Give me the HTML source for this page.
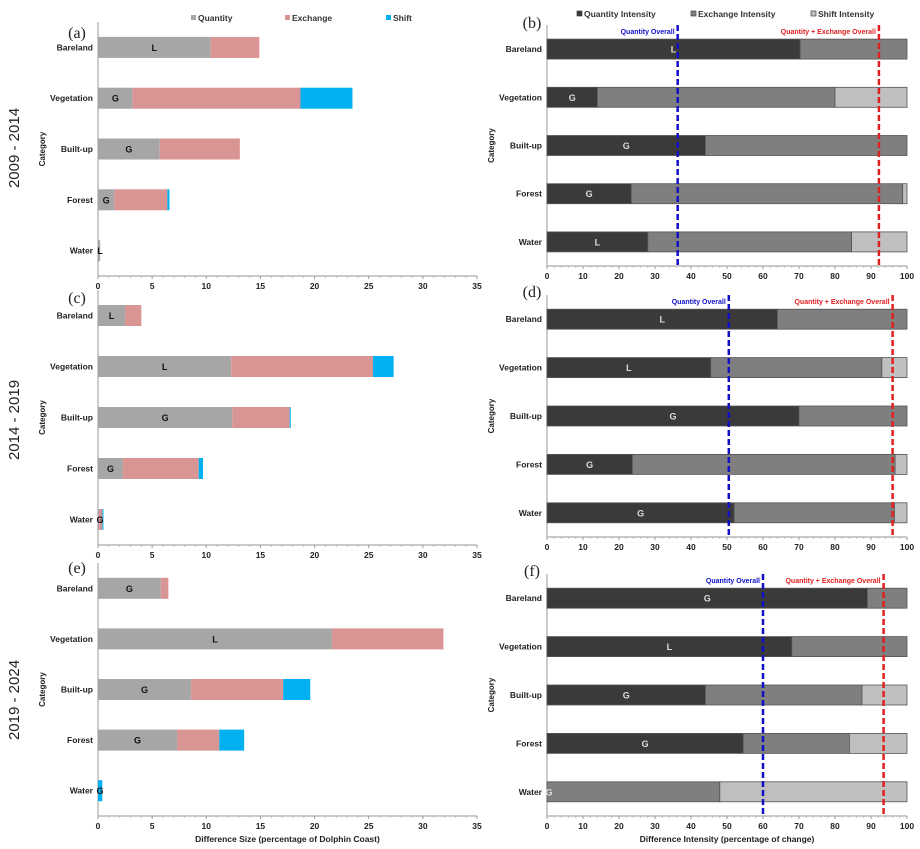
<!DOCTYPE html>
<html><head><meta charset="utf-8"><style>
body{margin:0;background:#fff;}
svg{display:block;font-family:"Liberation Sans",sans-serif;}
</style></head><body>
<svg id="fig" width="920" height="849" viewBox="0 0 920 849" xmlns="http://www.w3.org/2000/svg"></svg>
<script>
const categories=["Bareland","Vegetation","Built-up","Forest","Water"];
// Left panels: difference size
const aQuantity=[10.4,3.2,5.7,1.5,0.2];
const aExchange=[4.5,15.5,7.4,4.9,0];
const aShift=[0,4.8,0,0.2,0];
const aTags=["L","G","G","G","L"];
const cQuantity=[2.5,12.3,12.4,2.3,0.1];
const cExchange=[1.5,13.1,5.3,7.0,0.3];
const cShift=[0,1.9,0.1,0.4,0.1];
const cTags=["L","L","G","G","G"];
const eQuantity=[5.8,21.6,8.6,7.3,0];
const eExchange=[0.7,10.3,8.5,3.9,0];
const eShift=[0,0,2.5,2.3,0.4];
const eTags=["G","L","G","G","G"];
const leftTicks=[0,5,10,15,20,25,30,35];
// Right panels: intensity
const bQuantity=[70.3,14,44,23.4,28];
const bExchange=[29.7,66,56,75.4,56.6];
const bShift=[0,20,0,1.2,15.4];
const bTags=["L","G","G","G","L"];
const bLines=[36.3,92.2];
const dQuantity=[64,45.5,70,23.7,52];
const dExchange=[36,47.5,30,73,44.5];
const dShift=[0,7,0,3.3,3.5];
const dTags=["L","L","G","G","G"];
const dLines=[50.5,96];
const fQuantity=[89,68,44,54.5,0];
const fExchange=[11,32,43.5,29.5,48];
const fShift=[0,0,12.5,16,52];
const fTags=["G","L","G","G","G"];
const fLines=[60,93.5];
const rightTicks=[0,10,20,30,40,50,60,70,80,90,100];

const svg=document.getElementById('fig');
const NS="http://www.w3.org/2000/svg";
function mk(tag,attrs,parent){const e=document.createElementNS(NS,tag);for(const k in attrs)e.setAttribute(k,attrs[k]);(parent||svg).appendChild(e);return e;}
function txt(x,y,s,attrs){const e=mk('text',Object.assign({x:x,y:y},attrs||{}));e.textContent=s;return e;}

function panel(cfg){
  const g=mk('g',{});
  
  
  const sx=v=>cfg.x0+(v-cfg.min)/(cfg.max-cfg.min)*(cfg.x1-cfg.x0);
  const sy=i=>cfg.y0+(i+0.5)*(cfg.yAxis-cfg.y0)/categories.length;
  const ya=mk('line',{x1:cfg.x0,y1:cfg.y0,x2:cfg.x0,y2:cfg.yAxis,stroke:'#aaa','stroke-width':1.2},g);
  
  const xa=mk('line',{x1:cfg.x0,y1:cfg.yAxis,x2:cfg.x1,y2:cfg.yAxis,stroke:'#aaa','stroke-width':1.2},g);
  
  const ticks=cfg.ticks;
  for(let t=0;t<ticks.length;t++){
    const x=sx(ticks[t]);
    mk('line',{x1:x,y1:cfg.yAxis,x2:x,y2:cfg.yAxis+3,stroke:'#999'},g);
    if(t<ticks.length-1){for(let m=1;m<5;m++){const xm=sx(ticks[t]+m*(ticks[t+1]-ticks[t])/5);mk('line',{x1:xm,y1:cfg.yAxis,x2:xm,y2:cfg.yAxis+2,stroke:'#bbb'},g);}}
    const tl=txt(x,cfg.yAxis+13,String(ticks[t]),{'font-size':8.5,'font-weight':'bold','text-anchor':'middle',fill:'#222'});
    g.appendChild(tl);
    
  }
  for(let i=0;i<categories.length;i++){
    const cy=sy(i);const h=cfg.barH;
    const vals=[cfg.q[i],cfg.e[i],cfg.s[i]];
    let acc=0;
    for(let k=0;k<3;k++){
      if(vals[k]<=0){continue;}
      const r=mk('rect',{x:sx(acc),y:cy-h/2,width:Math.max(sx(acc+vals[k])-sx(acc),0.8),height:h,fill:cfg.colors[k],stroke:cfg.stroke||'none','stroke-width':0.8},g);
      
      
      acc+=vals[k];
    }
    const lab=txt(cfg.x0-5,cy+3,categories[i],{'font-size':8.5,'font-weight':'bold','text-anchor':'end',fill:'#222'});
    g.appendChild(lab);
    
    const tx=cfg.q[i]>cfg.max/35?sx(cfg.q[i]/2):cfg.x0+2;
    const tg=txt(tx,cy+3.5,cfg.tags[i],{'font-size':9,'font-weight':'bold','text-anchor':'middle',fill:cfg.tagColor});
    g.appendChild(tg);
    
  }
  if(cfg.lines){
    const lc=['#1010c8','#e02020'];const ln=['Quantity Overall','Quantity + Exchange Overall'];
    for(let j=0;j<2;j++){
      const x=sx(cfg.lines[j]);
      const l=mk('line',{x1:x,y1:cfg.y0,x2:x,y2:cfg.yAxis,stroke:lc[j],'stroke-width':2.5,'stroke-dasharray':'6,3'},g);
      
      const lt=txt(x-3,cfg.y0+9,ln[j],{'font-size':7,'font-weight':'bold','text-anchor':'end',fill:lc[j]});
      g.appendChild(lt);
      
    }
  }
  const pl=txt(cfg.letterX,cfg.letterY,cfg.letter,{'font-size':16,'font-family':'Liberation Serif, serif',fill:'#222','text-anchor':'middle'});
  g.appendChild(pl);
  
  const ct=txt(0,0,'Category',{'font-size':8,'font-weight':'bold',fill:'#222','text-anchor':'middle',transform:`translate(${cfg.catX},${(cfg.y0+cfg.yAxis)/2}) rotate(-90)`});
  g.appendChild(ct);
  
  if(cfg.xTitle){const xt=txt((cfg.x0+cfg.x1)/2,cfg.yAxis+26,cfg.xTitle,{'font-size':8.5,'font-weight':'bold','text-anchor':'middle',fill:'#222'});g.appendChild(xt);}
}
const LC=['#a6a6a6','#d99594','#00b0f0'];
const RC=['#3a3a3a','#7f7f7f','#bfbfbf'];
panel({name:'panel-a',letter:'(a)',letterX:77,letterY:38,x0:98,x1:477,min:0,max:35,y0:22,yAxis:276,barH:21,q:aQuantity,e:aExchange,s:aShift,tags:aTags,colors:LC,tagColor:'#111',ticks:leftTicks,catX:45});
panel({name:'panel-c',letter:'(c)',letterX:77,letterY:303,x0:98,x1:477,min:0,max:35,y0:290,yAxis:545,barH:21,q:cQuantity,e:cExchange,s:cShift,tags:cTags,colors:LC,tagColor:'#111',ticks:leftTicks,catX:45});
panel({name:'panel-e',letter:'(e)',letterX:77,letterY:573,x0:98,x1:477,min:0,max:35,y0:563,yAxis:816,barH:21,q:eQuantity,e:eExchange,s:eShift,tags:eTags,colors:LC,tagColor:'#111',ticks:leftTicks,catX:45,xTitle:'Difference Size (percentage of Dolphin Coast)'});
panel({name:'panel-b',letter:'(b)',letterX:532,letterY:28,x0:547,x1:907,min:0,max:100,y0:25,yAxis:266,barH:20,q:bQuantity,e:bExchange,s:bShift,tags:bTags,colors:RC,stroke:'#555',tagColor:'#ddd',ticks:rightTicks,catX:494,lines:bLines});
panel({name:'panel-d',letter:'(d)',letterX:532,letterY:297,x0:547,x1:907,min:0,max:100,y0:295,yAxis:537,barH:20,q:dQuantity,e:dExchange,s:dShift,tags:dTags,colors:RC,stroke:'#555',tagColor:'#ddd',ticks:rightTicks,catX:494,lines:dLines});
panel({name:'panel-f',letter:'(f)',letterX:532,letterY:576,x0:547,x1:907,min:0,max:100,y0:574,yAxis:816,barH:20,q:fQuantity,e:fExchange,s:fShift,tags:fTags,colors:RC,stroke:'#555',tagColor:'#ddd',ticks:rightTicks,catX:494,lines:fLines,xTitle:'Difference Intensity (percentage of change)'});

const periods=["2009 - 2014","2014 - 2019","2019 - 2024"];const pys=[148,420,700];
for(let i=0;i<3;i++){const p=txt(0,0,periods[i],{'font-size':15,'font-family':'Liberation Sans, sans-serif',fill:'#222','text-anchor':'middle',transform:`translate(19,${pys[i]}) rotate(-90)`});}
function legend(items,colors,xs,y,name,stroke){
  for(let i=0;i<items.length;i++){
    const r=mk('rect',{x:xs[i],y:y-6,width:5,height:5,fill:colors[i],stroke:stroke||'none','stroke-width':0.7});
    
    const t=txt(xs[i]+7,y,items[i],{'font-size':8.5,'font-weight':'bold',fill:'#333'});
    
  }
}
legend(['Quantity','Exchange','Shift'],LC,[191,285,386],21,'legend-left');
legend(['Quantity Intensity','Exchange Intensity','Shift Intensity'],RC,[577,691,811],17,'legend-right','#444');
</script>
</body></html>
